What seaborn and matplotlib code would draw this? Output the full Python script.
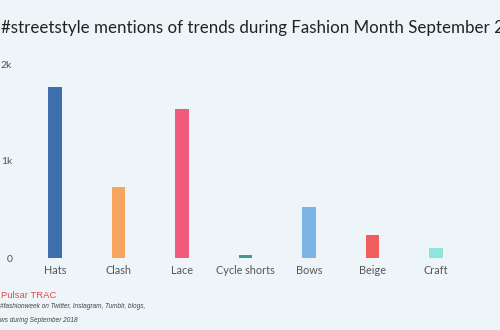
import matplotlib
matplotlib.use("Agg")
import matplotlib.pyplot as plt
import seaborn as sns
import pandas as pd

categories = ["Hats", "Clash", "Lace", "Cycle shorts", "Bows", "Beige", "Craft"]
mentions = [1760, 730, 1535, 30, 525, 240, 100]
colors = ["#3f6eaf", "#f6a55e", "#ef5a7d", "#3c9b8e", "#7eb3e8", "#f05d5f", "#8fe4de"]
y_ticks = [0, 1000, 2000]
y_tick_labels = ["0", "1k", "2k"]

title = "#streetstyle mentions of trends during Fashion Month September 2018"
source = "Pulsar TRAC"
note1 = "#fashionweek on Twitter, Instagram, Tumblr, blogs,"
note2 = "ws during September 2018"

bg = "#eef5f8"
sns.set_theme(style="white")
plt.rcParams["font.family"] = ["Lato", "DejaVu Sans"]

df = pd.DataFrame({"trend": categories, "mentions": mentions})

fig = plt.figure(figsize=(5, 3.3), dpi=100, facecolor=bg)
ax = fig.add_axes([23.25 / 500, 72 / 330, 444.5 / 500, 194 / 330], facecolor=bg)
sns.barplot(data=df, x="trend", y="mentions", hue="trend",
            palette=dict(zip(categories, colors)), width=0.22,
            legend=False, ax=ax, saturation=1, linewidth=0)
ax.set_xlim(-0.5, len(categories) - 0.5)
ax.set_ylim(0, 2000)
ax.set_yticks(y_ticks)
ax.set_yticklabels(y_tick_labels)
ax.set_xlabel("")
ax.set_ylabel("")
for s in ax.spines.values():
    s.set_visible(False)
ax.tick_params(axis="y", length=0, pad=8, labelsize=7.5, labelcolor="#555555")
ax.tick_params(axis="x", length=0, pad=5, labelsize=7.8, labelcolor="#555555")

fig.text(1 / 500, 1 - 28 / 330, title, fontsize=12.2, color="#222222",
         va="center", ha="left")
fig.text(1 / 500, 1 - 295 / 330, source, fontsize=6.8, color="#e8474f",
         va="center", ha="left", family=["Liberation Sans", "DejaVu Sans"])
fig.text(0 / 500, 1 - 307 / 330, note1, fontsize=4.7, color="#444444",
         va="center", ha="left", style="italic", family=["Liberation Sans", "DejaVu Sans"])
fig.text(0 / 500, 1 - 320 / 330, note2, fontsize=4.7, color="#444444",
         va="center", ha="left", style="italic", family=["Liberation Sans", "DejaVu Sans"])

fig.savefig("out.png", dpi=100, facecolor=bg)
